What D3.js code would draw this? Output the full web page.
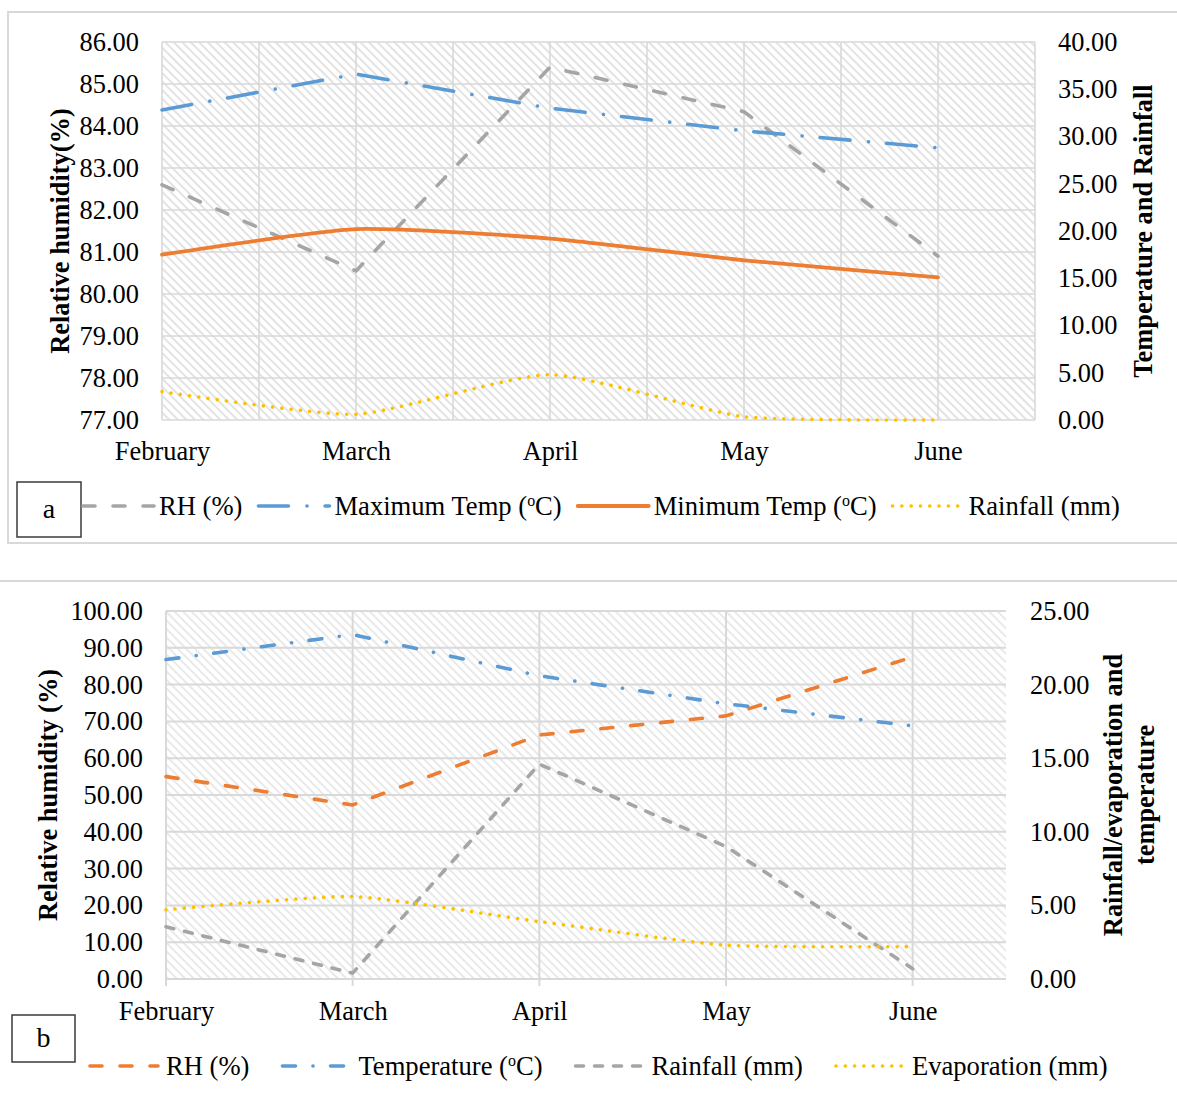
<!DOCTYPE html>
<html>
<head>
<meta charset="utf-8">
<script src="https://cdn.jsdelivr.net/npm/d3@7"></script>
<style>
  html, body { margin: 0; padding: 0; background: #fff; }
  svg { display: block; font-family: "Liberation Serif", "Times New Roman", serif; }
</style>
</head>
<body>
<svg id="chart" width="1177" height="1098"></svg>
<script>
// ---- data ----
const months = ["February", "March", "April", "May", "June"];

// panel a
const rhA      = [82.6, 80.55, 85.4, 84.34, 80.9];
const maxTempA = [32.8, 36.6, 33.0, 30.6, 28.8];
const minTempA = [17.5, 20.2, 19.2, 16.9, 15.1];
const rainA    = [3.0, 0.6, 4.8, 0.35, 0.0];
const leftTicksA  = [77, 78, 79, 80, 81, 82, 83, 84, 85, 86];
const rightTicksA = [0, 5, 10, 15, 20, 25, 30, 35, 40];

// panel b
const rhB    = [55.0, 47.3, 66.3, 71.5, 87.5];
const tempB  = [21.7, 23.4, 20.6, 18.7, 17.2];
const rainB  = [3.55, 0.4, 14.6, 9.0, 0.7];
const evapB  = [4.7, 5.6, 3.9, 2.3, 2.2];
const leftTicksB  = [0, 10, 20, 30, 40, 50, 60, 70, 80, 90, 100];
const rightTicksB = [0, 5, 10, 15, 20, 25];

// ---- styling ----
const FONT = '"Liberation Serif", "Times New Roman", serif';
const FS = 26.4;
const LFS = 26.6;
const GRID = "#d9d9d9";
const GRAY = "#a5a5a5", BLUE = "#5b9bd5", ORANGE = "#ed7d31", YELLOW = "#ffc000";
const smooth = d3.curveCardinal.tension(0.45);

const svg = d3.select("#chart");
const defs = svg.append("defs");

function hatch(id, color, size, width) {
  const p = defs.append("pattern")
    .attr("id", id)
    .attr("patternUnits", "userSpaceOnUse")
    .attr("width", size).attr("height", size)
    .attr("patternTransform", "rotate(-45)");
  p.append("rect").attr("width", size).attr("height", size).attr("fill", "#fff");
  p.append("line")
    .attr("x1", size / 2).attr("x2", size / 2)
    .attr("y1", -1).attr("y2", size + 1)
    .attr("stroke", color).attr("stroke-width", width);
}
hatch("hatchA", "#dcdcdc", 6, 1.6);
hatch("hatchB", "#e4e4e4", 6, 1.6);

// outer frames of the two panels
svg.append("rect").attr("x", 8).attr("y", 12).attr("width", 1190).attr("height", 531)
  .attr("fill", "none").attr("stroke", "#d9d9d9").attr("stroke-width", 2);
svg.append("rect").attr("x", -10).attr("y", 581).attr("width", 1200).attr("height", 540)
  .attr("fill", "none").attr("stroke", "#d9d9d9").attr("stroke-width", 2);

function labelText(sel, parts, fs) {
  // parts: [before, superscript, after]
  sel.append("tspan").text(parts[0]);
  if (parts[1]) {
    sel.append("tspan").attr("font-size", fs * 0.6).attr("dy", -fs * 0.33).text(parts[1]);
    sel.append("tspan").attr("dy", fs * 0.33).text(parts[2]);
  }
}

function drawPanel(p) {
  const g = svg.append("g");
  const x = d3.scaleLinear().domain([0, 4.5]).range([p.left, p.right]);
  const yL = d3.scaleLinear().domain(d3.extent(p.leftTicks)).range([p.bottom, p.top]);
  const yR = d3.scaleLinear().domain(d3.extent(p.rightTicks)).range([p.bottom, p.top]);

  // plot background
  g.append("rect")
    .attr("x", p.left).attr("y", p.top)
    .attr("width", p.right - p.left).attr("height", p.bottom - p.top)
    .attr("fill", `url(#${p.hatch})`);

  // gridlines
  g.append("g").selectAll("line").data(p.leftTicks).join("line")
    .attr("x1", p.left).attr("x2", p.right)
    .attr("y1", d => yL(d)).attr("y2", d => yL(d))
    .attr("stroke", GRID).attr("stroke-width", p.gridWidth);
  g.append("g").selectAll("line").data(p.xGrid).join("line")
    .attr("x1", d => x(d)).attr("x2", d => x(d))
    .attr("y1", p.top).attr("y2", d => (Number.isInteger(d) ? p.bottom + p.tickLen : p.bottom))
    .attr("stroke", GRID).attr("stroke-width", p.gridWidth);

  // axes
  const fmt = d3.format(".2f");
  const styleAxis = a => {
    a.select(".domain").remove();
    a.selectAll("line").remove();
    a.attr("font-family", FONT).attr("font-size", FS);
    a.selectAll("text").attr("fill", "#000");
  };
  g.append("g").attr("transform", `translate(${p.left},0)`)
    .call(d3.axisLeft(yL).tickValues(p.leftTicks).tickFormat(fmt).tickSize(0).tickPadding(p.pad))
    .call(styleAxis);
  g.append("g").attr("transform", `translate(${p.right},0)`)
    .call(d3.axisRight(yR).tickValues(p.rightTicks).tickFormat(fmt).tickSize(0).tickPadding(p.padR))
    .call(styleAxis);
  g.append("g").attr("transform", `translate(0,${p.bottom})`)
    .call(d3.axisBottom(x).tickValues(d3.range(months.length)).tickFormat(i => months[i]).tickSize(0).tickPadding(p.padX))
    .call(styleAxis);

  // series
  p.series.forEach(s => {
    const scale = s.axis === "left" ? yL : yR;
    const line = d3.line().x((d, i) => x(i)).y(d => scale(d)).curve(s.curve || d3.curveLinear);
    g.append("path")
      .datum(s.values)
      .attr("d", line)
      .attr("fill", "none")
      .attr("stroke", s.color)
      .attr("stroke-width", s.width)
      .attr("stroke-dasharray", s.dash)
      .attr("stroke-linecap", "round")
      .attr("stroke-linejoin", "round");
  });

  // axis titles
  g.append("text")
    .attr("transform", `translate(${p.leftTitleX},${(p.top + p.bottom) / 2}) rotate(-90)`)
    .attr("text-anchor", "middle").attr("dy", "0.35em")
    .attr("font-family", FONT).attr("font-size", FS).attr("font-weight", "bold")
    .text(p.leftTitle);
  p.rightTitle.forEach((t, i) => {
    g.append("text")
      .attr("transform", `translate(${p.rightTitleX[i]},${(p.top + p.bottom) / 2}) rotate(-90)`)
      .attr("text-anchor", "middle").attr("dy", "0.35em")
      .attr("font-family", FONT).attr("font-size", FS).attr("font-weight", "bold")
      .text(t);
  });

  // panel letter box
  g.append("rect")
    .attr("x", p.box.x).attr("y", p.box.y).attr("width", p.box.w).attr("height", p.box.h)
    .attr("fill", "#fff").attr("stroke", "#3a3a3a").attr("stroke-width", 1.5);
  g.append("text")
    .attr("x", p.box.x + p.box.w / 2).attr("y", p.box.y + p.box.h / 2)
    .attr("dy", "0.3em").attr("text-anchor", "middle")
    .attr("font-family", FONT).attr("font-size", 28)
    .text(p.letter);

  // legend
  let cx = p.legend.x;
  const ly = p.legend.y;
  p.series.forEach(s => {
    g.append("line")
      .attr("x1", cx + 2).attr("x2", cx + p.legend.sample - 2)
      .attr("y1", ly).attr("y2", ly)
      .attr("stroke", s.color).attr("stroke-width", s.width)
      .attr("stroke-dasharray", s.dash).attr("stroke-linecap", "round");
    cx += p.legend.sample + p.legend.gapST;
    const t = g.append("text")
      .attr("x", cx).attr("y", ly).attr("dy", "0.33em")
      .attr("font-family", FONT).attr("font-size", LFS);
    labelText(t, s.label, LFS);
    cx += t.node().getComputedTextLength() + p.legend.gapTN;
  });
}

drawPanel({
  left: 162, right: 1035, top: 42, bottom: 420,
  hatch: "hatchA", gridWidth: 1.6, tickLen: 0,
  xGrid: d3.range(0, 4.51, 0.5),
  leftTicks: leftTicksA, rightTicks: rightTicksA,
  pad: 23, padR: 23, padX: 21,
  leftTitle: "Relative humidity(%)", leftTitleX: 60,
  rightTitle: ["Temperature and Rainfall"], rightTitleX: [1143],
  box: { x: 17, y: 482, w: 64, h: 55 }, letter: "a",
  legend: { x: 81, y: 506, sample: 75, gapST: 3, gapTN: 14 },
  series: [
    { label: ["RH (%)"], values: rhA, axis: "left", color: GRAY, width: 3.6, dash: "12,18" },
    { label: ["Maximum Temp (", "o", "C)"], values: maxTempA, axis: "right", color: BLUE, width: 3.6, dash: "30,18.5,0.1,18" },
    { label: ["Minimum Temp (", "o", "C)"], values: minTempA, axis: "right", color: ORANGE, width: 3.8, dash: null, curve: smooth },
    { label: ["Rainfall (mm)"], values: rainA, axis: "right", color: YELLOW, width: 3.6, dash: "0.1,9.2", curve: smooth }
  ]
});

drawPanel({
  left: 166, right: 1006, top: 611, bottom: 979,
  hatch: "hatchB", gridWidth: 2, tickLen: 7,
  xGrid: d3.range(0, 4.01, 1),
  leftTicks: leftTicksB, rightTicks: rightTicksB,
  pad: 23, padR: 24, padX: 22,
  leftTitle: "Relative humidity (%)", leftTitleX: 48,
  rightTitle: ["Rainfall/evaporation and", "temperature"], rightTitleX: [1113, 1145],
  box: { x: 12, y: 1015, w: 63, h: 47 }, letter: "b",
  legend: { x: 88, y: 1066, sample: 72, gapST: 6, gapTN: 31 },
  series: [
    { label: ["RH (%)"], values: rhB, axis: "left", color: ORANGE, width: 3.6, dash: "12,18" },
    { label: ["Temperature (", "o", "C)"], values: tempB, axis: "right", color: BLUE, width: 3.6, dash: "13,17.5,0.1,17.5" },
    { label: ["Rainfall (mm)"], values: rainB, axis: "right", color: GRAY, width: 3.6, dash: "8,11" },
    { label: ["Evaporation (mm)"], values: evapB, axis: "right", color: YELLOW, width: 3.6, dash: "0.1,9.2", curve: smooth }
  ]
});
</script>
</body>
</html>
